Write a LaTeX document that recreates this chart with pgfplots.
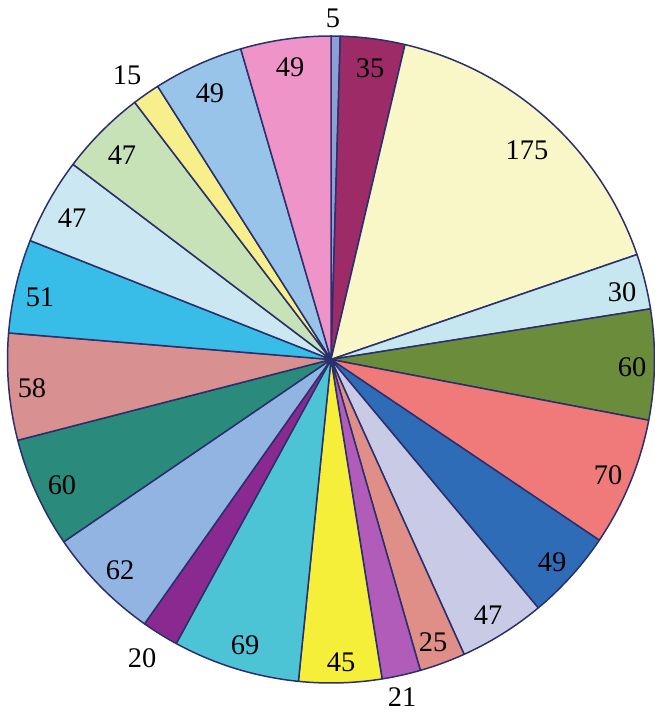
\documentclass[border=0pt]{standalone}
\usepackage{pgfplots}
\pgfplotsset{compat=1.18}
\usepackage{fontspec}
\setmainfont{Liberation Serif}
\definecolor{edge}{HTML}{2B2F6B}
\definecolor{s1}{HTML}{8F9FD6}
\definecolor{s2}{HTML}{9C2B68}
\definecolor{s3}{HTML}{F9F6C8}
\definecolor{s4}{HTML}{C6E6F0}
\definecolor{s5}{HTML}{6B8C3A}
\definecolor{s6}{HTML}{F07A7A}
\definecolor{s7}{HTML}{2F6CB8}
\definecolor{s8}{HTML}{C9CBE6}
\definecolor{s9}{HTML}{E08E88}
\definecolor{s10}{HTML}{B05CB8}
\definecolor{s11}{HTML}{F6EF3A}
\definecolor{s12}{HTML}{4CC4D6}
\definecolor{s13}{HTML}{8A2A90}
\definecolor{s14}{HTML}{92B4E2}
\definecolor{s15}{HTML}{2A8A7C}
\definecolor{s16}{HTML}{D89090}
\definecolor{s17}{HTML}{38BDE8}
\definecolor{s18}{HTML}{CBE8F2}
\definecolor{s19}{HTML}{C8E2B8}
\definecolor{s20}{HTML}{F7EF8C}
\definecolor{s21}{HTML}{98C4EA}
\definecolor{s22}{HTML}{EF94C8}
% value / colour / label x px / label y px
\gdef\pieslices{}
\gdef\pielabels{}
\gdef\piecum{0}
\foreach \v/\c/\lx/\ly in {
  5/s1/333/18, 35/s2/370/68, 175/s3/527/150, 30/s4/622/292,
  60/s5/632/367, 70/s6/608/475, 49/s7/552/562, 47/s8/488/615,
  25/s9/433/642, 21/s10/402/697, 45/s11/341/662, 69/s12/245/645,
  20/s13/142/658, 62/s14/120/570, 60/s15/62/485, 58/s16/32/388,
  51/s17/40/297, 47/s18/72/218, 47/s19/122/155, 15/s20/127/75,
  49/s21/210/93, 49/s22/290/67}{
  \pgfmathsetmacro\a{90-\piecum/1089*360}
  \pgfmathsetmacro\b{90-(\piecum+\v)/1089*360}
  \pgfmathsetmacro\X{(\lx-331)/323.5}
  \pgfmathsetmacro\Y{(359.5-\ly)/323.5}
  \xdef\pieslices{\unexpanded\expandafter{\pieslices}\noexpand\addplot[fill=\c,draw=edge,line width=1.5pt,line join=round,domain=\b:\a,samples=60] ({cos(x)},{sin(x)}) -- (axis cs:0,0) -- cycle;}
  \xdef\pielabels{\unexpanded\expandafter{\pielabels}\noexpand\node[font=\noexpand\fontsize{28.5}{30}\noexpand\selectfont,inner sep=0pt] at (axis cs:\X,\Y) {\v};}
  \pgfmathsetmacro\n{\piecum+\v}
  \xdef\piecum{\n}
}
\begin{document}
\begin{tikzpicture}
\begin{axis}[
  scale only axis, width=655bp, height=715bp,
  xmin=-1.02318, xmax=1.00155, ymin=-1.09892, ymax=1.11128,
  hide axis, clip=false]
\pieslices
\pielabels
\end{axis}
\pgfresetboundingbox
\path (current axis.south west) rectangle (current axis.north east);
\end{tikzpicture}
\end{document}
